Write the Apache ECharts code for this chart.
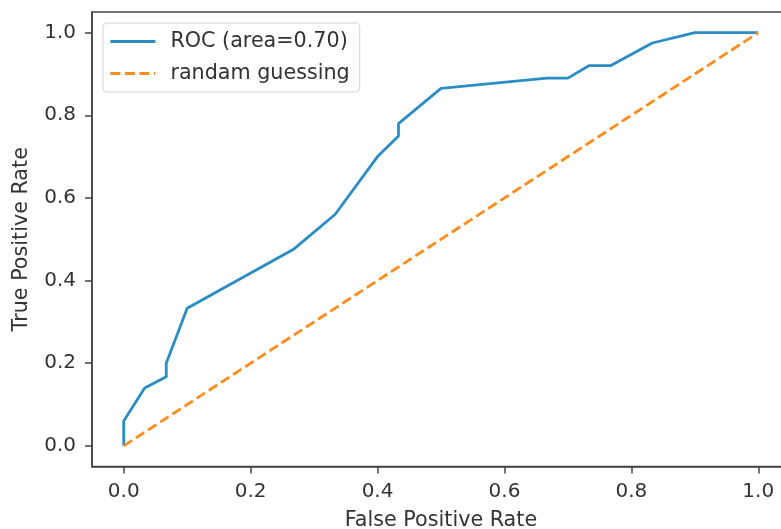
<!DOCTYPE html>
<html>
<head>
<meta charset="utf-8">
<script src="https://cdn.jsdelivr.net/npm/echarts@6/dist/echarts.min.js"></script>
<style>
html,body{margin:0;padding:0;background:#fff;}
#chart{width:781px;height:529px;}
</style>
</head>
<body>
<div id="chart"></div>
<script>
// ROC curve points (FPR, TPR)
const rocFpr = [0, 0, 0.033, 0.067, 0.067, 0.1, 0.267, 0.333, 0.4, 0.433, 0.433, 0.5, 0.667, 0.7, 0.733, 0.767, 0.833, 0.9, 1.0];
const rocTpr = [0, 0.06, 0.14, 0.167, 0.2, 0.333, 0.475, 0.56, 0.7, 0.75, 0.78, 0.865, 0.89, 0.89, 0.92, 0.92, 0.975, 1.0, 1.0];
// Random guessing diagonal
const randFpr = [0, 1];
const randTpr = [0, 1];
const tickValues = [0, 0.2, 0.4, 0.6, 0.8, 1.0];
const rocName = 'ROC (area=0.70)';
const randName = 'randam guessing';
const xLabel = 'False Positive Rate';
const yLabel = 'True Positive Rate';

const font = 'DejaVu Sans';
const chart = echarts.init(document.getElementById('chart'), null, {renderer: 'canvas'});
const ticks = tickValues;
function axisCommon(name) {
  return {
    type: 'value',
    min: -0.05,
    max: 1.05,
    interval: 0.2,
    name: name,
    nameLocation: 'middle',
    nameTextStyle: {fontFamily: font, fontSize: 20.7, color: '#333'},
    splitLine: {show: false},
    axisLine: {show: true, onZero: false, lineStyle: {color: '#444', width: 1.5}},
    axisTick: {show: true, length: 7, lineStyle: {color: '#444', width: 1.5}, customValues: ticks},
    axisLabel: {fontFamily: font, fontSize: 20, color: '#333', customValues: ticks,
      formatter: v => v.toFixed(1)}
  };
}
const xAxis = axisCommon(xLabel);
xAxis.nameGap = 44;
xAxis.axisLabel.margin = 15;
const yAxis = axisCommon(yLabel);
yAxis.nameGap = 60;
yAxis.axisLabel.margin = 16;

chart.setOption({
  animation: false,
  backgroundColor: '#fff',
  grid: {left: 92, right: -9, top: 12, bottom: 62.5, outerBoundsMode: 'none', containLabel: false,
    show: true, borderColor: '#444', borderWidth: 1.5, backgroundColor: 'transparent'},
  xAxis: xAxis,
  yAxis: yAxis,
  legend: {
    orient: 'vertical',
    left: 103, top: 23,
    padding: [8, 10, 8, 6],
    itemGap: 11,
    itemWidth: 45,
    itemHeight: 20,
    borderColor: '#d4d4d4',
    borderWidth: 1,
    borderRadius: 4,
    backgroundColor: 'rgba(255,255,255,0.8)',
    itemStyle: {color: 'transparent', borderWidth: 0, opacity: 0},
    lineStyle: {width: 2.8},
    textStyle: {fontFamily: font, fontSize: 20.7, color: '#333', padding: [0, 0, 0, 10]},
    data: [rocName, randName]
  },
  series: [
    {
      name: rocName, type: 'line', symbol: 'none', showSymbol: false,
      data: rocFpr.map((x, i) => [x, rocTpr[i]]),
      lineStyle: {color: '#2a8dc5', width: 2.8},
      itemStyle: {color: '#2a8dc5'},
      z: 3
    },
    {
      name: randName, type: 'line', symbol: 'none', showSymbol: false,
      data: randFpr.map((x, i) => [x, randTpr[i]]),
      lineStyle: {color: '#ff8c1a', width: 2.8, type: [10, 4.5]},
      itemStyle: {color: '#ff8c1a'},
      z: 4
    }
  ]
});
</script>
</body>
</html>
